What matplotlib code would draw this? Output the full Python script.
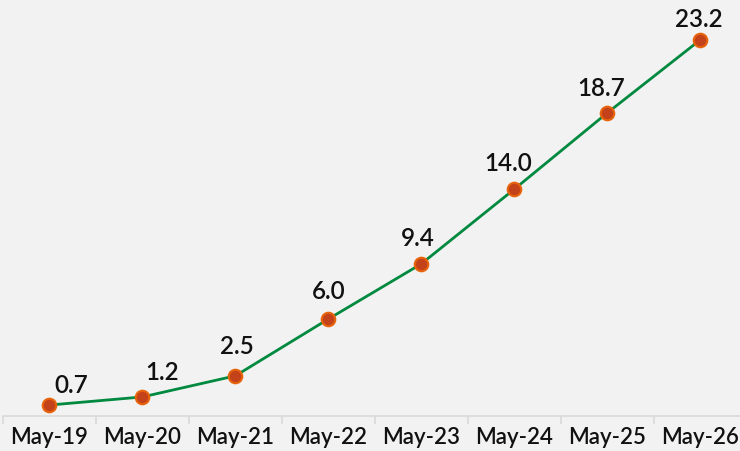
import matplotlib
matplotlib.use("Agg")
from matplotlib import pyplot as plt
import numpy as np

# data
months = ["May-19", "May-20", "May-21", "May-22", "May-23", "May-24", "May-25", "May-26"]
values = [0.7, 1.2, 2.5, 6.0, 9.4, 14.0, 18.7, 23.2]
# label nudges in px (Excel-ish placement)
label_dx = [22, 20, 2, 0, -3, -6, -6, -1]
label_dy = [21, 25, 30, 29, 26, 27, 26, 22]

plt.rcParams['font.family'] = ['Lato', 'DejaVu Sans']

bg = '#f2f2f2'
fig = plt.figure(figsize=(7.4, 4.52), dpi=100, facecolor=bg)
ax = fig.add_axes([3 / 740, (452 - 417.4) / 452, 743.5 / 740, 417.4 / 452])
ax.set_facecolor(bg)

x = np.arange(len(months))
ax.plot(x, values, color='#00893f', lw=2, zorder=2)
ax.scatter(x, values, s=95, color='#c4421a', edgecolor='#e8640c', lw=1.5, zorder=3)

for xi, v, dx, dy in zip(x, values, label_dx, label_dy):
    ax.annotate(f"{v:.1f}", (xi, v), xytext=(dx * 0.72, dy * 0.72), textcoords='offset points',
                ha='center', va='center', fontsize=17.5, fontweight='semibold', color='#111111')

ax.set_xlim(-0.5, len(months) - 0.5)
ax.set_ylim(0, 25.73)

for s in ['top', 'right', 'left']:
    ax.spines[s].set_visible(False)
ax.spines['bottom'].set_color('#d9d9d9')
ax.spines['bottom'].set_linewidth(1.2)
ax.set_yticks([])

ax.set_xticks(x)
ax.set_xticklabels(months, fontsize=16, fontweight='semibold', color='#111111')
ax.tick_params(axis='x', which='major', length=0, pad=7)
ax.set_xticks(np.arange(len(months) + 1) - 0.5, minor=True)
ax.tick_params(axis='x', which='minor', length=6, color='#d9d9d9', width=1.2)

plt.savefig('out.png', dpi=100, facecolor=bg)
